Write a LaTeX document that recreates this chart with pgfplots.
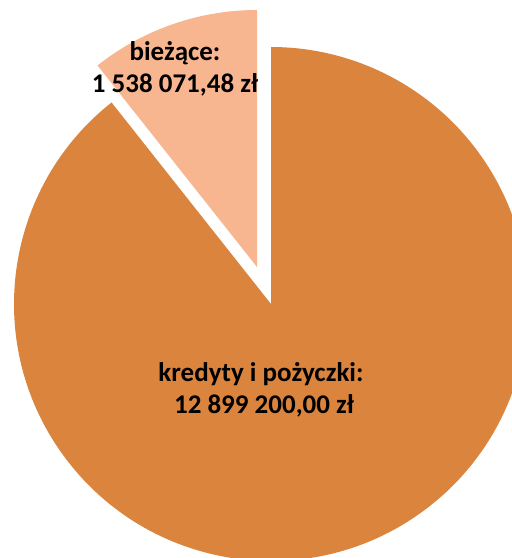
\documentclass[border=0pt]{standalone}
\usepackage{pgfplots}
\pgfplotsset{compat=1.18}
\usepackage{fontspec}
\setmainfont{Carlito}
\definecolor{kredyty}{RGB}{219,132,61}
\definecolor{biezace}{RGB}{247,182,143}

% values in millions of zl
\pgfmathsetmacro{\vKred}{12.8992}
\pgfmathsetmacro{\vBiez}{1.53807148}
\pgfmathsetmacro{\angB}{360*\vBiez/(\vKred+\vBiez)}

\begin{document}
\begin{tikzpicture}
\begin{axis}[
    width=512pt, height=558pt, scale only axis,
    xmin=0, xmax=512, ymin=0, ymax=558,
    hide axis, clip=true
]
    % main slice, from top clockwise
    \fill[kredyty] (axis cs:271,254) -- ++(90+\angB:257) arc[start angle=90+\angB, end angle=450, radius=257] -- cycle;
    % exploded slice
    \fill[biezace] (axis cs:257,291) -- ++(90:257) arc[start angle=90, end angle=90+\angB, radius=257] -- cycle;
    \node[font=\bfseries\fontsize{27}{32}\selectfont, align=center] at (axis cs:175,489) {bieżące:\\1 538 071,48 zł};
    \node[font=\bfseries\fontsize{27}{32}\selectfont, align=center] at (axis cs:261,168) {kredyty i pożyczki:\\\ 12 899 200,00 zł};
\end{axis}
\pgfresetboundingbox
\useasboundingbox (0,0) rectangle (512pt,558pt);
\end{tikzpicture}
\end{document}
